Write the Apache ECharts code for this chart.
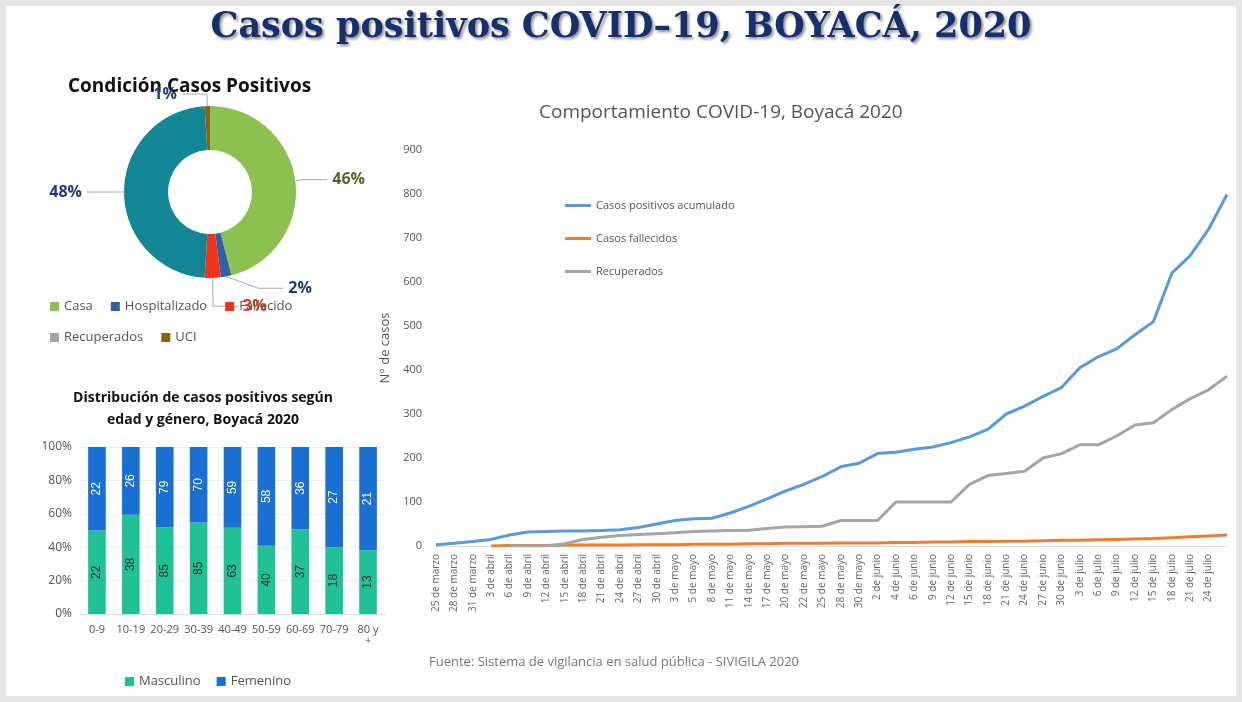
<!DOCTYPE html>
<html><head><meta charset="utf-8">
<script src="https://cdn.jsdelivr.net/npm/echarts@6/dist/echarts.min.js"></script>
<style>html,body{margin:0;padding:0;background:#e6e6e6}#c{width:1242px;height:702px}</style>
</head><body><div id="c"></div>
<script>
const dateLabels = ['25 de marzo','28 de marzo','31 de marzo','3 de abril','6 de abril','9 de abril','12 de abril','15 de abril','18 de abril','21 de abril','24 de abril','27 de abril','30 de abril','3 de mayo','5 de mayo','8 de mayo','11 de mayo','14 de mayo','17 de mayo','20 de mayo','22 de mayo','25 de mayo','28 de mayo','30 de mayo','2 de junio','4 de junio','6 de junio','9 de junio','12 de junio','15 de junio','18 de junio','21 de junio','24 de junio','27 de junio','30 de junio','3 de julio','6 de julio','9 de julio','12 de julio','15 de julio','18 de julio','21 de julio','24 de julio',''];
const positivos = [1,3,6,10,15,25,32,33,34,34,35,37,42,50,58,62,63,75,90,107,125,140,158,180,188,210,213,220,225,235,248,265,300,318,340,360,405,430,448,480,510,620,660,720,799];
const fallecidos = [null,null,null,0,1,1,1,2,2,2,2,3,3,3,4,4,4,5,5,6,6,6,7,7,7,8,8,9,9,10,10,11,11,12,13,13,14,15,16,17,19,21,23,25];
const recuperados = [null,null,null,null,0,0,0,5,15,20,24,26,28,30,33,34,35,36,40,43,44,45,58,58,58,100,100,100,100,140,160,165,170,200,210,230,230,250,275,280,310,335,355,386];
const pieNames = ['Casa','Hospitalizado','Fallecido','Recuperados','UCI'];
const pieValues = [46,2,3,48,1];
const ageGroups = ['0-9','10-19','20-29','30-39','40-49','50-59','60-69','70-79','80 y\n+'];
const masculino = [22,38,85,85,63,40,37,18,13];
const femenino = [22,26,79,70,59,58,36,27,21];
</script>
<script>
// align lengths: positivos has one more early value; trim to date labels length
const n = dateLabels.length;
const pos = positivos.slice(positivos.length - n);
const pctM = masculino.map((m,i)=>m/(m+femenino[i])*100);
const pctF = femenino.map((f,i)=>f/(masculino[i]+f)*100);
const pieColors = ['#8cc152','#2e62a8','#f0341c','#138796','#8a6414'];
const pieLabelColors = ['#56642a','#1f3b78','#f0341c','#1f3b78','#1f3b78'];
const ch = echarts.init(document.getElementById('c'));
function lastLbl(arr){return {show:true,position:'top',offset:[-14,-6],color:'#555',fontSize:13,fontFamily:'Liberation Sans Narrow, DejaVu Sans Condensed',
  formatter:p=>p.dataIndex===arr.length-1?String(p.value):''};}
ch.setOption({
  backgroundColor:'#e6e6e6',
  animation:false,
  graphic:[
    {type:'rect',shape:{x:6,y:6,width:1230,height:690},style:{fill:'#fff'},z:-10},
    {type:'text',left:'center',top:10,style:{text:'Casos positivos COVID–19, BOYACÁ, 2020',font:'bold 35px "DejaVu Serif"',fill:'#16306e',textShadowColor:'rgba(0,0,0,0.45)',textShadowBlur:3,textShadowOffsetX:2,textShadowOffsetY:2}},
    {type:'text',x:68,y:77,style:{text:'Condición Casos Positivos',font:'bold 19px "Open Sans"',fill:'#111'}},
    {type:'text',x:203,y:387,style:{text:'Distribución de casos positivos según\nedad y género, Boyacá 2020',font:'bold 14px "Open Sans"',fill:'#111',textAlign:'center',lineHeight:22}},
    {type:'text',x:539,y:103,style:{text:'Comportamiento COVID-19, Boyacá 2020',font:'19px "Open Sans"',fill:'#555'}},
    {type:'text',x:429,y:656,style:{text:'Fuente: Sistema de vigilancia en salud pública - SIVIGILA 2020',font:'13px "Open Sans"',fill:'#777'}}
  ],
  legend:[
    {data:['Casos positivos acumulado','Casos fallecidos','Recuperados'],orient:'vertical',left:560,top:195,itemGap:22,itemWidth:26,itemHeight:3,icon:'rect',
     textStyle:{color:'#555',fontSize:11,fontFamily:'Open Sans'}},
    {data:pieNames,left:45,top:295,width:320,itemGap:18,itemWidth:9,itemHeight:9,icon:'rect',textStyle:{color:'#555',fontSize:13,fontFamily:'Open Sans'}},
    {data:['Masculino','Femenino'],left:'center',left:120,top:670,itemWidth:9,itemHeight:9,icon:'rect',itemGap:16,textStyle:{color:'#555',fontSize:13,fontFamily:'Open Sans'}}
  ],
  grid:[
    {left:436,right:15,top:150,bottom:156},
    {left:80,right:857,top:447,bottom:88}
  ],
  xAxis:[
    {type:'category',gridIndex:0,data:dateLabels,boundaryGap:false,axisTick:{show:false},axisLine:{lineStyle:{color:'#ddd'}},
     axisLabel:{rotate:90,interval:0,color:'#666',fontSize:10,fontFamily:'Open Sans'}},
    {type:'category',gridIndex:1,data:ageGroups,axisTick:{show:false},axisLine:{lineStyle:{color:'#ddd'}},
     axisLabel:{interval:0,color:'#555',fontSize:11,fontFamily:'Open Sans',margin:10}}
  ],
  yAxis:[
    {type:'value',gridIndex:0,min:0,max:900,interval:100,splitLine:{show:false},axisLabel:{color:'#555',fontSize:11,fontFamily:'Open Sans',margin:14},
     name:'N° de casos',nameLocation:'middle',nameRotate:90,nameGap:40,nameTextStyle:{color:'#555',fontSize:13,fontFamily:'Open Sans'}},
    {type:'value',gridIndex:1,min:0,max:100,interval:20,splitLine:{lineStyle:{color:'#eee'}},axisLabel:{formatter:'{value}%',color:'#555',fontSize:12,fontFamily:'Open Sans'}}
  ],
  series:[
    {name:'Casos positivos acumulado',type:'line',xAxisIndex:0,yAxisIndex:0,data:pos,symbol:'none',lineStyle:{width:3,color:'#5b9bd5'},itemStyle:{color:'#5b9bd5'},label:lastLbl(pos)},
    {name:'Casos fallecidos',type:'line',xAxisIndex:0,yAxisIndex:0,data:fallecidos,symbol:'none',lineStyle:{width:3,color:'#ed7d31'},itemStyle:{color:'#ed7d31'},label:lastLbl(fallecidos)},
    {name:'Recuperados',type:'line',xAxisIndex:0,yAxisIndex:0,data:recuperados,symbol:'none',lineStyle:{width:3,color:'#a5a5a5'},itemStyle:{color:'#a5a5a5'},label:lastLbl(recuperados)},
    {name:'Condición',type:'pie',center:[210,192],radius:[42,86],startAngle:90,clockwise:true,
     data:pieNames.map((nm,i)=>({name:nm,value:pieValues[i],itemStyle:{color:pieColors[i]},label:{color:pieLabelColors[i]}})),
     itemStyle:{borderColor:'#7aa840',borderWidth:0},
     label:{formatter:'{c}%',fontSize:16,fontWeight:'bold',fontFamily:'Open Sans'},labelLine:{length:12,length2:25,lineStyle:{color:'#aaa'}}},
    {name:'Masculino',type:'bar',stack:'g',xAxisIndex:1,yAxisIndex:1,barWidth:'52%',data:pctM,itemStyle:{color:'#21c197'},
     label:{show:true,position:'inside',rotate:90,color:'#333',fontSize:12,formatter:p=>masculino[p.dataIndex]}},
    {name:'Femenino',type:'bar',stack:'g',xAxisIndex:1,yAxisIndex:1,barWidth:'52%',data:pctF,itemStyle:{color:'#1a6fd3'},
     label:{show:true,position:'inside',rotate:90,color:'#fff',fontSize:12,formatter:p=>femenino[p.dataIndex]}}
  ]
});
</script></body></html>
